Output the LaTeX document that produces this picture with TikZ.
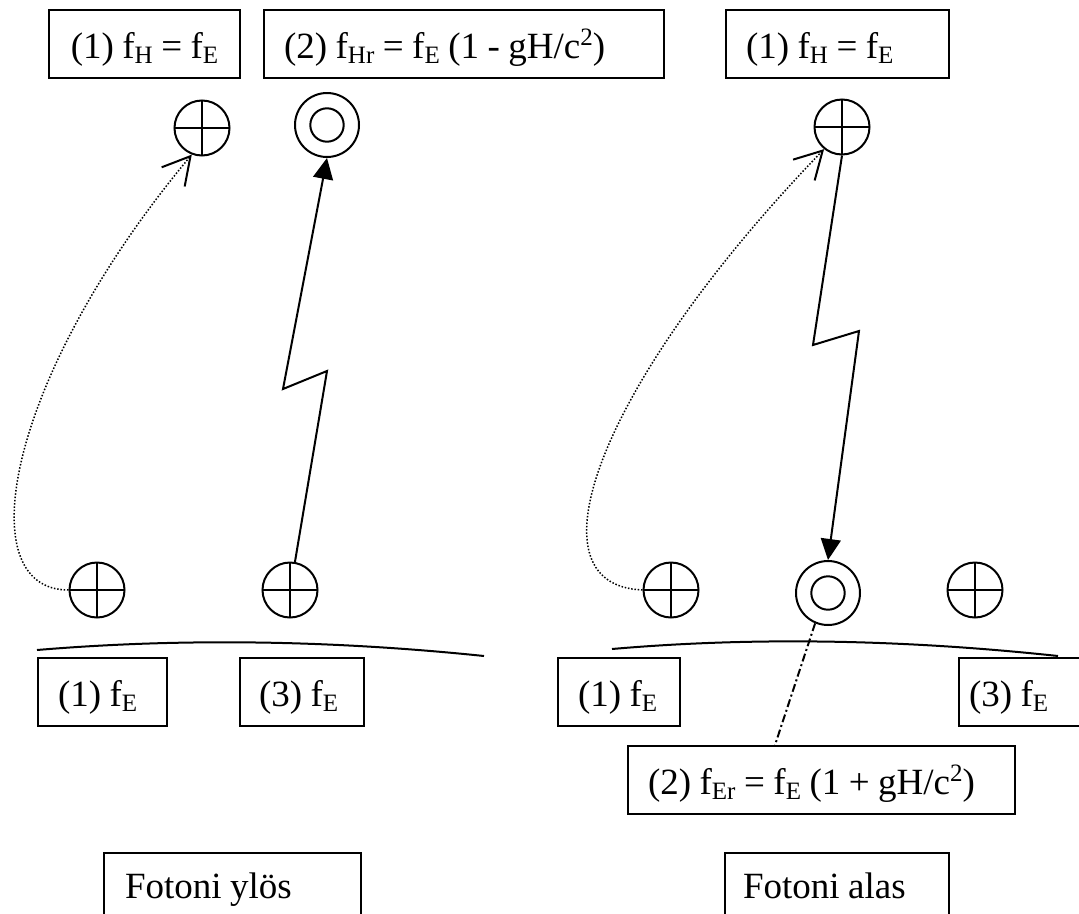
\documentclass[tikz,border=0pt]{standalone}
\usepackage{fontspec}
\setmainfont{Liberation Serif}
\usetikzlibrary{arrows.meta}
\newcommand\fsz{\fontsize{37}{40}\selectfont\spaceskip=8.5pt plus 1pt minus 1pt\relax}
\newcommand\sbx[1]{\raisebox{-5pt}{\fontsize{25}{25}\selectfont #1}}
\newcommand\spx[1]{\raisebox{13pt}{\fontsize{25}{25}\selectfont #1}}
\newcommand\lfit[2]{\makebox[#1][l]{#2}}
\begin{document}
\begin{tikzpicture}[x=1pt,y=-1pt,
  box/.style={draw, line width=2pt, rectangle, inner xsep=20pt, inner ysep=0pt,
    minimum height=68pt, text height=34pt, text depth=6pt, anchor=north west,
    font=\fsz},
  fbox/.style={box, minimum height=80pt, text height=25pt, text depth=15pt},
  clk/.style={draw, circle, line width=2pt, minimum size=55pt, inner sep=0pt,
    path picture={\draw[line width=2pt] (path picture bounding box.north) -- (path picture bounding box.south)
      (path picture bounding box.west) -- (path picture bounding box.east);}},
  dclk/.style={draw, circle, line width=2pt, minimum size=64pt, inner sep=0pt,
    path picture={\draw[line width=2pt] (path picture bounding box.center) circle[radius=16.7pt];}},
  zig/.style={line width=2pt, -{Triangle[length=21pt,width=20pt]}},
  dotline/.style={line width=1.5pt, dash pattern=on 1.5pt off 1.8pt,
    -{Straight Barb[length=27pt,width=30pt,line width=2pt]}},
  ground/.style={line width=2pt},
  dashdot/.style={line width=2pt, dash pattern=on 8pt off 3pt on 2pt off 3pt}
]
\useasboundingbox (0,0) rectangle (1079,913);
\clip (0,0) rectangle (1079,913);
\fill[white] (0,0) rectangle (1079,913);

% top boxes
\node[box] (A) at (48,9) {\makebox[151pt][c]{(1) f\sbx{H} = f\sbx{E}}};
\node[box] (B) at (263,9) {\lfit{360pt}{(2) f\sbx{Hr} = f\sbx{E} (1 - gH/c\spx{2})}};
\node[box] (C) at (725,9) {\lfit{183pt}{(1) f\sbx{H} = f\sbx{E}}};

% bottom boxes
\node[box] (D) at (37,657) {\lfit{89pt}{(1) f\sbx{E}}};
\node[box, inner xsep=19pt] (E) at (239,657) {\lfit{86pt}{(3) f\sbx{E}}};
\node[box] (F) at (557,657) {\lfit{82pt}{(1) f\sbx{E}}};
\node[box, inner xsep=10pt] (G) at (958,657) {\lfit{140pt}{(3) f\sbx{E}}};
\node[box] (H) at (627,745) {\lfit{347pt}{(2) f\sbx{Er} = f\sbx{E} (1 + gH/c\spx{2})}};
\node[fbox, inner xsep=21pt] (I) at (103,852) {\lfit{215pt}{Fotoni ylös}};
\node[fbox, inner xsep=18pt] (J) at (724,852) {\lfit{188pt}{Fotoni alas}};

% clocks
\node[clk] (tl) at (202,128) {};
\node[dclk] (tm) at (327,125) {};
\node[clk] (tr) at (842,127) {};
\node[clk] (bl) at (97,590) {};
\node[clk] (b2) at (290,590) {};
\node[clk] (br1) at (671,590) {};
\node[dclk] (bm2) at (828,593) {};
\node[clk] (br3) at (975,590) {};

% ground
\draw[ground] (37,650) .. controls (180,638) and (330,640) .. (484,656);
\draw[ground] (612,649) .. controls (750,637) and (900,639) .. (1058,656);

% photon up (left)
\draw[zig] (b2.80) -- (327,371) -- (283,389) -- (tm.south);
% photon down (right)
\draw[zig] (tr.south) -- (813,345) -- (859,331) -- (bm2.north);

% dotted curves
\draw[dotline] (bl.west) .. controls (-32,590) and (6,377) .. (tl.249);
\draw[dotline] (br1.west) .. controls (523,585) and (601,380) .. (tr.231);

% dash-dot
\coordinate (Hin) at (775,745);
\draw[dashdot] (bm2.247) -- (Hin);
\end{tikzpicture}
\end{document}
